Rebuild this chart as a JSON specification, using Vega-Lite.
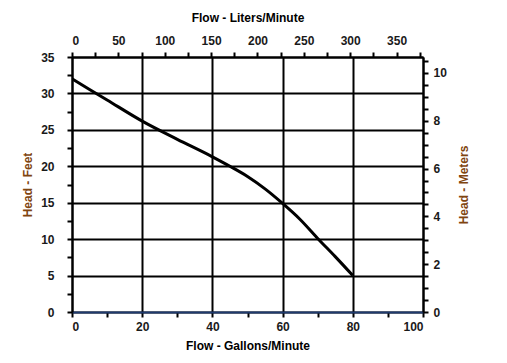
{
  "$schema": "https://vega.github.io/schema/vega-lite/v6.json",
  "autosize": {"type": "none"},
  "width": 351,
  "height": 255,
  "padding": {"left": 72, "top": 57, "right": 84, "bottom": 51},
  "background": "white",
  "config": {
    "view": {"stroke": null},
    "axis": {
      "labelFont": "Liberation Sans",
      "titleFont": "Liberation Sans",
      "labelFontSize": 12,
      "titleFontSize": 12,
      "labelFontWeight": "bold",
      "titleFontWeight": "bold",
      "labelColor": "#1a1a1a",
      "domainColor": "black",
      "domainWidth": 2,
      "tickColor": "black",
      "tickWidth": 2,
      "gridColor": "black",
      "gridWidth": 2
    }
  },
  "layer": [
    {
      "data": {"values": [
        {"gal": 0, "feet": 32.0},
        {"gal": 10, "feet": 29.1},
        {"gal": 20, "feet": 26.2},
        {"gal": 30, "feet": 23.7},
        {"gal": 40, "feet": 21.3},
        {"gal": 45, "feet": 20.0},
        {"gal": 50, "feet": 18.6},
        {"gal": 55, "feet": 16.9},
        {"gal": 60, "feet": 14.9},
        {"gal": 65, "feet": 12.7},
        {"gal": 70, "feet": 10.1},
        {"gal": 75, "feet": 7.6},
        {"gal": 80, "feet": 5.0}
      ]},
      "mark": {"type": "line", "color": "black", "strokeWidth": 3, "interpolate": "monotone", "clip": true},
      "encoding": {
        "x": {
          "field": "gal", "type": "quantitative",
          "scale": {"domain": [0, 100], "nice": false, "zero": true},
          "axis": {
            "orient": "bottom",
            "title": "Flow - Gallons/Minute",
            "titleColor": "black",
            "titlePadding": 8,
            "values": [0, 10, 20, 30, 40, 50, 60, 70, 80, 90, 100],
            "labelExpr": "datum.value % 20 == 0 ? datum.label : ''",
            "labelPadding": 4,
            "tickSize": 5,
            "domainColor": "#1f3a6e",
            "grid": true,
            "gridOpacity": {"condition": {"test": "datum.value % 20 == 0", "value": 1}, "value": 0}
          }
        },
        "y": {
          "field": "feet", "type": "quantitative",
          "scale": {"domain": [0, 35], "nice": false, "zero": true},
          "axis": {
            "orient": "left",
            "title": "Head - Feet",
            "titleColor": "#7f4510",
            "titlePadding": 6,
            "values": [0, 2.5, 5, 7.5, 10, 12.5, 15, 17.5, 20, 22.5, 25, 27.5, 30, 32.5, 35],
            "labelExpr": "datum.value % 5 == 0 ? datum.label : ''",
            "labelPadding": 13,
            "tickSize": 5,
            "grid": true,
            "gridOpacity": {"condition": {"test": "datum.value % 5 == 0", "value": 1}, "value": 0}
          }
        }
      }
    },
    {
      "data": {"values": [
        {"liters": 0, "meters": 0},
        {"liters": 378.5, "meters": 10.668}
      ]},
      "mark": {"type": "point", "opacity": 0},
      "encoding": {
        "x": {
          "field": "liters", "type": "quantitative",
          "scale": {"domain": [0, 378.5], "nice": false, "zero": true},
          "axis": {
            "orient": "top",
            "title": "Flow - Liters/Minute",
            "titleColor": "black",
            "titlePadding": 10,
            "values": [0, 25, 50, 75, 100, 125, 150, 175, 200, 225, 250, 275, 300, 325, 350, 375],
            "labelExpr": "datum.value % 50 == 0 ? format(datum.value, 'd') : ''",
            "labelPadding": 5,
            "tickSize": 5,
            "grid": false
          }
        },
        "y": {
          "field": "meters", "type": "quantitative",
          "scale": {"domain": [0, 10.668], "nice": false, "zero": true},
          "axis": {
            "orient": "right",
            "title": "Head - Meters",
            "titleColor": "#7f4510",
            "titleAngle": 270,
            "titleBaseline": "bottom",
            "titlePadding": 24,
            "values": [0, 0.5, 1, 1.5, 2, 2.5, 3, 3.5, 4, 4.5, 5, 5.5, 6, 6.5, 7, 7.5, 8, 8.5, 9, 9.5, 10, 10.5],
            "labelExpr": "datum.value % 2 == 0 ? format(datum.value, 'd') : ''",
            "labelPadding": 5,
            "tickSize": 5,
            "grid": false
          }
        }
      }
    }
  ],
  "resolve": {"scale": {"x": "independent", "y": "independent"}}
}
